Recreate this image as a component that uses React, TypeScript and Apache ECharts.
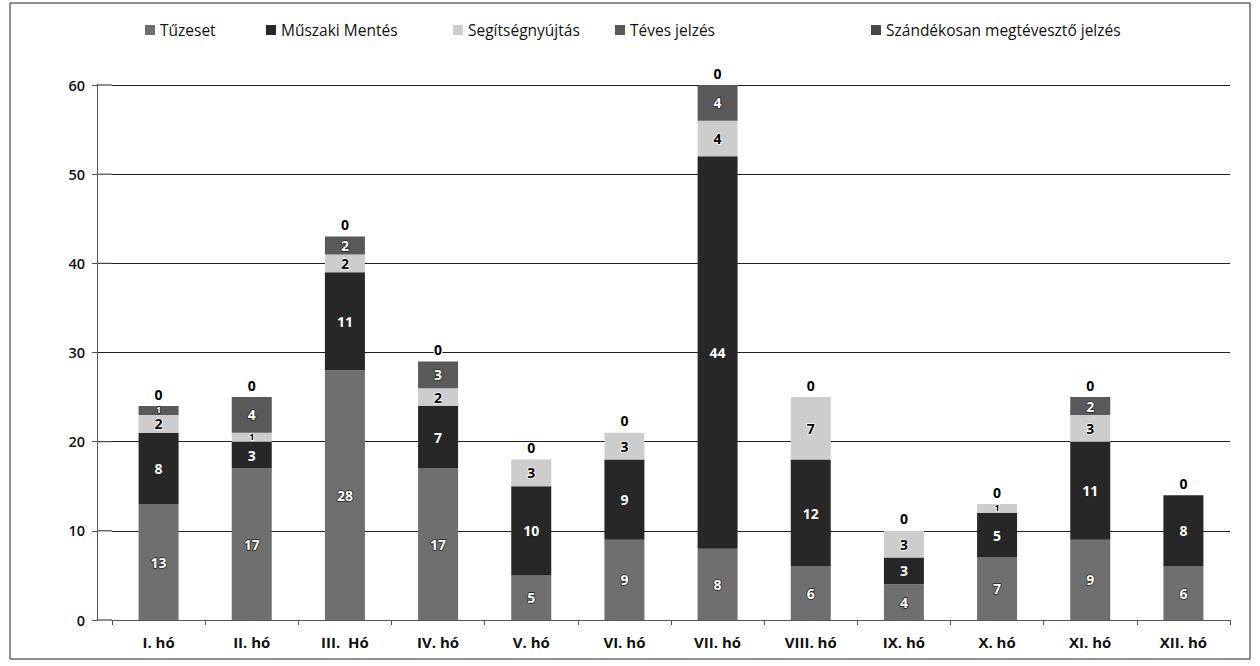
import React, { useEffect, useRef } from "react";
import * as echarts from "echarts";

const months = ["I. hó", "II. hó", "III.  Hó", "IV. hó", "V. hó", "VI. hó", "VII. hó", "VIII. hó", "IX. hó", "X. hó", "XI. hó", "XII. hó"];
const tuzeset = [13, 17, 28, 17, 5, 9, 8, 6, 4, 7, 9, 6];
const muszaki = [8, 3, 11, 7, 10, 9, 44, 12, 3, 5, 11, 8];
const segitseg = [2, 1, 2, 2, 3, 3, 4, 7, 3, 1, 3, 0];
const teves = [1, 4, 2, 3, 0, 0, 4, 0, 0, 0, 2, 0];
const szandekos = [0, 0, 0, 0, 0, 0, 0, 0, 0, 0, 0, 0];
const yTicks = [0, 10, 20, 30, 40, 50, 60];

const seriesNames = ["Tűzeset", "Műszaki Mentés", "Segítségnyújtás", "Téves jelzés", "Szándékosan megtévesztő jelzés"];
const seriesValues = [tuzeset, muszaki, segitseg, teves, szandekos];
const seriesColors = ["#6f6f6f", "#272727", "#cdcdcd", "#595959", "#474747"];
const labelColors = ["#ffffff", "#ffffff", "#000000", "#ffffff", "#000000"];
const legendLefts = [140, 261, 448, 610, 866];

const FONT = "'Open Sans', 'Noto Sans', sans-serif";

export default function App() {
  const ref = useRef<HTMLDivElement>(null);
  useEffect(() => {
    if (!ref.current) return;
    const chart = echarts.init(ref.current, null, { renderer: "svg" });
    const lastIdx = seriesValues.length - 1;
    const series = seriesValues.map((vals, si) => ({
      name: seriesNames[si],
      type: "bar",
      stack: "total",
      barWidth: 40,
      itemStyle: { color: seriesColors[si] },
      label: {
        show: true,
        position: "inside",
        fontFamily: FONT,
        fontSize: 14,
        lineHeight: 14,
        fontWeight: "bold",
        color: labelColors[si],
        textBorderColor: labelColors[si] === "#ffffff" ? "#222" : "#fff",
        textBorderWidth: 1.5,
      },
      data: vals.map((v) => ({
        value: v,
        label:
          v === 0
            ? si === lastIdx
              ? { show: true, color: "#000", textBorderColor: "#fff", textBorderWidth: 2, offset: [0, -12] }
              : { show: false }
            : v === 1
            ? { fontSize: 9, lineHeight: 8, offset: [0, -1] }
            : undefined,
      })),
    }));
    chart.setOption({
      animation: false,
      backgroundColor: "#ffffff",
      textStyle: { fontFamily: FONT },
      legend: seriesNames.map((n, i) => ({
        data: [n],
        left: legendLefts[i],
        top: 17,
        icon: "rect",
        itemWidth: 10,
        itemHeight: 10,
        itemGap: 4,
        textStyle: { fontFamily: FONT, fontSize: 15.5, color: "#111" },
      })),
      grid: { left: 112, right: 30, top: 85, bottom: 46 },
      xAxis: {
        type: "category",
        data: months,
        axisLine: { lineStyle: { color: "#555", width: 1 } },
        axisTick: { show: true, alignWithLabel: false, lineStyle: { color: "#555" } },
        axisLabel: { fontFamily: FONT, fontSize: 15, fontWeight: "bold", color: "#111", margin: 14 },
      },
      yAxis: {
        type: "value",
        min: 0,
        max: 60,
        interval: 10,
        offset: 15,
        axisLine: { show: true, lineStyle: { color: "#555" } },
        axisTick: { show: true, lineStyle: { color: "#555" } },
        axisLabel: { fontFamily: FONT, fontSize: 14.5, fontWeight: 600, color: "#111", margin: 12 },
        splitLine: { lineStyle: { color: "#222", width: 1 } },
      },
      series,
    });
    const extra: any[] = [
      {
        type: "rect",
        shape: { x: 10, y: 3, width: 1240, height: 656 },
        style: { fill: "none", stroke: "#222", lineWidth: 1 },
        silent: true,
      },
    ];
    yTicks.forEach((t) => {
      const p = chart.convertToPixel({ gridIndex: 0 }, [0, t]) as number[];
      if (p) {
        extra.push({
          type: "line",
          shape: { x1: 97, y1: p[1], x2: 112, y2: p[1] },
          style: { stroke: "#222", lineWidth: 1 },
          silent: true,
        });
      }
    });
    chart.setOption({ graphic: extra });
    return () => chart.dispose();
  }, []);
  return <div ref={ref} style={{ position: "fixed", left: 0, top: 0, width: 1260, height: 666 }} />;
}
